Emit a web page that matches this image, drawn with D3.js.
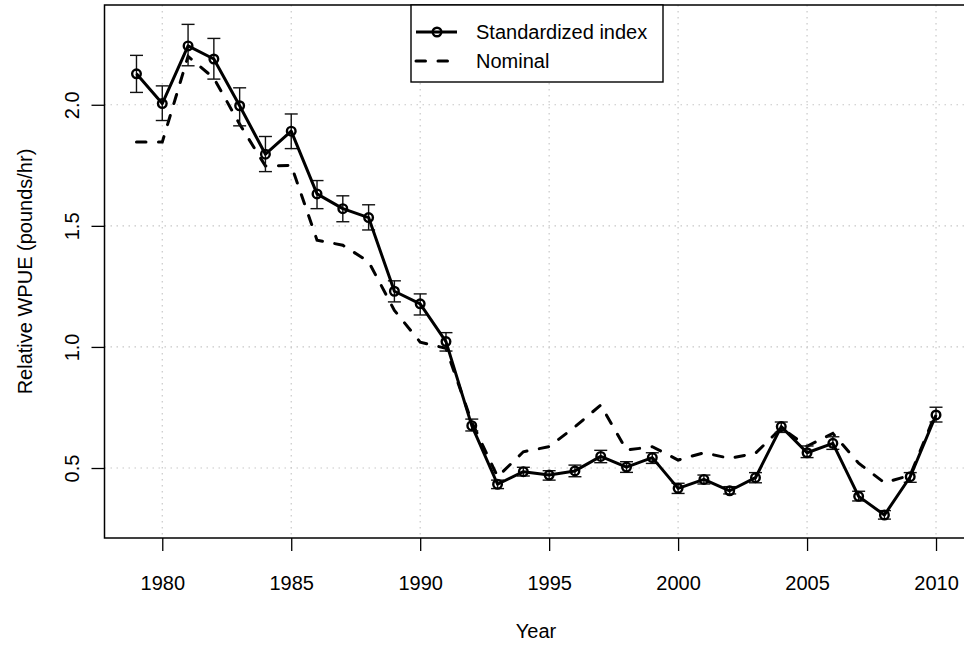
<!DOCTYPE html>
<html>
<head>
<meta charset="utf-8">
<script src="https://cdn.jsdelivr.net/npm/d3@7"></script>
<style>
  body { margin: 0; background: #fff; }
  text { font-family: "Liberation Sans", Arial, sans-serif; }
</style>
</head>
<body>
<svg id="chart"></svg>
<script>
const WIDTH = 964;
const HEIGHT = 649;

const years = d3.range(1979, 2011);
const standardized = [2.128, 2.005, 2.243, 2.189, 1.996, 1.796, 1.891, 1.632, 1.571, 1.534, 1.230, 1.178, 1.022, 0.675, 0.433, 0.485,
  0.471, 0.488, 0.548, 0.504, 0.543, 0.416, 0.453, 0.406, 0.460, 0.671, 0.563, 0.602, 0.383, 0.306, 0.464, 0.719];
const lower = [2.051, 1.935, 2.161, 2.106, 1.913, 1.724, 1.819, 1.571, 1.517, 1.483, 1.186, 1.132, 0.983, 0.653, 0.415, 0.467,
  0.450, 0.464, 0.522, 0.482, 0.519, 0.395, 0.434, 0.393, 0.439, 0.647, 0.543, 0.577, 0.364, 0.289, 0.441, 0.690];
const upper = [2.204, 2.078, 2.332, 2.274, 2.070, 1.869, 1.962, 1.687, 1.624, 1.587, 1.273, 1.219, 1.059, 0.702, 0.450, 0.503,
  0.489, 0.512, 0.573, 0.526, 0.563, 0.437, 0.471, 0.423, 0.481, 0.690, 0.591, 0.629, 0.404, 0.324, 0.481, 0.751];
const nominal = [1.846, 1.846, 2.20, 2.11, 1.92, 1.747, 1.75, 1.441, 1.42, 1.352, 1.151, 1.02, 0.994, 0.69, 0.464, 0.567,
  0.588, 0.67, 0.76, 0.574, 0.588, 0.533, 0.563, 0.540, 0.561, 0.665, 0.59, 0.643, 0.52, 0.439, 0.47, 0.73];
const xTicks = [1980, 1985, 1990, 1995, 2000, 2005, 2010];
const yTicks = [0.5, 1.0, 1.5, 2.0];
const legendLabels = ["Standardized index", "Nominal"];

const data = years.map((year, i) => ({
  year, std: standardized[i], lo: lower[i], hi: upper[i], nom: nominal[i]
}));

const svg = d3.select("#chart").attr("width", WIDTH).attr("height", HEIGHT);

// plot region (R style: 4% padding around data range)
const x = d3.scaleLinear().domain([1977.76, 2011.24]).range([104.5, 968]);
const y = d3.scaleLinear().domain([0.211, 2.412]).range([538, 5]);

// grid
svg.append("g")
  .attr("class", "grid")
  .call((g) => {
    g.selectAll(".vgrid")
      .data(xTicks)
      .join("line")
      .attr("x1", (d) => x(d)).attr("x2", (d) => x(d))
      .attr("y1", 5).attr("y2", 538);
    g.selectAll(".hgrid")
      .data(yTicks)
      .join("line")
      .attr("x1", 104.5).attr("x2", 968)
      .attr("y1", (d) => y(d)).attr("y2", (d) => y(d));
  })
  .selectAll("line")
  .attr("stroke", "#c8c8c8")
  .attr("stroke-width", 1.2)
  .attr("stroke-dasharray", "1.5,4.5");

// nominal (dashed)
svg.append("path")
  .datum(data)
  .attr("fill", "none")
  .attr("stroke", "#000")
  .attr("stroke-width", 3)
  .attr("stroke-linecap", "round")
  .attr("stroke-dasharray", "9.5,12.5")
  .attr("d", d3.line().x((d) => x(d.year)).y((d) => y(d.nom)));

// error bars
const bars = svg.append("g").attr("class", "errorbars")
  .attr("stroke", "#111").attr("stroke-width", 1.4);
bars.selectAll(".v")
  .data(data)
  .join("line")
  .attr("x1", (d) => x(d.year)).attr("x2", (d) => x(d.year))
  .attr("y1", (d) => y(d.lo)).attr("y2", (d) => y(d.hi));
bars.selectAll(".cap-hi")
  .data(data)
  .join("line")
  .attr("x1", (d) => x(d.year) - 6.5).attr("x2", (d) => x(d.year) + 6.5)
  .attr("y1", (d) => y(d.hi)).attr("y2", (d) => y(d.hi));
bars.selectAll(".cap-lo")
  .data(data)
  .join("line")
  .attr("x1", (d) => x(d.year) - 6.5).attr("x2", (d) => x(d.year) + 6.5)
  .attr("y1", (d) => y(d.lo)).attr("y2", (d) => y(d.lo));

// standardized index (solid + open circles)
svg.append("path")
  .datum(data)
  .attr("fill", "none")
  .attr("stroke", "#000")
  .attr("stroke-width", 3)
  .attr("stroke-linejoin", "round")
  .attr("d", d3.line().x((d) => x(d.year)).y((d) => y(d.std)));

svg.append("g")
  .selectAll("circle")
  .data(data)
  .join("circle")
  .attr("cx", (d) => x(d.year))
  .attr("cy", (d) => y(d.std))
  .attr("r", 4.3)
  .attr("fill", "none")
  .attr("stroke", "#000")
  .attr("stroke-width", 2.4);

// axes
const xAxis = svg.append("g")
  .attr("transform", "translate(0,538)")
  .call(d3.axisBottom(x).tickValues(xTicks).tickSize(13).tickPadding(0).tickFormat(d3.format("d")));
xAxis.select(".domain").remove();
xAxis.selectAll("line").attr("stroke", "#000").attr("stroke-width", 1.3);
xAxis.selectAll("text")
  .attr("y", 52).attr("dy", null)
  .attr("font-size", 20).attr("fill", "#000");

const yAxis = svg.append("g")
  .attr("transform", "translate(104.5,0)")
  .call(d3.axisLeft(y).tickValues(yTicks).tickSize(13).tickFormat(d3.format(".1f")));
yAxis.select(".domain").remove();
yAxis.selectAll("line").attr("stroke", "#000").attr("stroke-width", 1.3);
yAxis.selectAll("text")
  .attr("x", null).attr("dy", null)
  .attr("transform", "translate(-26,0) rotate(-90)")
  .attr("text-anchor", "middle")
  .attr("font-size", 20).attr("fill", "#000");

// box
svg.append("rect")
  .attr("x", 104.5).attr("y", 5)
  .attr("width", 968 - 104.5).attr("height", 533)
  .attr("fill", "none").attr("stroke", "#000").attr("stroke-width", 1.5);

// axis titles
svg.append("text")
  .attr("x", 536).attr("y", 638)
  .attr("text-anchor", "middle").attr("font-size", 20)
  .text("Year");
svg.append("text")
  .attr("transform", `translate(32,${(5 + 538) / 2}) rotate(-90)`)
  .attr("text-anchor", "middle").attr("font-size", 20)
  .text("Relative WPUE (pounds/hr)");

// legend
const legend = svg.append("g").attr("class", "legend").attr("transform", "translate(411,5)");
legend.append("rect")
  .attr("width", 252).attr("height", 77)
  .attr("fill", "#fff").attr("stroke", "#000").attr("stroke-width", 1.4);
legend.selectAll(".item")
  .data(legendLabels)
  .join((enter) => {
    const g = enter.append("g")
      .attr("class", "item")
      .attr("transform", (_, i) => `translate(0, ${27 + i * 29})`);
    g.append("line")
      .attr("x1", 5).attr("x2", 46)
      .attr("stroke", "#000").attr("stroke-width", 3)
      .attr("stroke-linecap", (_, i) => (i === 1 ? "round" : "butt"))
      .attr("stroke-dasharray", (_, i) => (i === 1 ? "9.5,12.5" : null));
    g.filter((_, i) => i === 0).append("circle")
      .attr("cx", 26).attr("r", 4.3)
      .attr("fill", "none").attr("stroke", "#000").attr("stroke-width", 2.4);
    g.append("text")
      .attr("x", 65).attr("y", 7)
      .attr("font-size", 20)
      .text((d) => d);
    return g;
  });
</script>
</body>
</html>
